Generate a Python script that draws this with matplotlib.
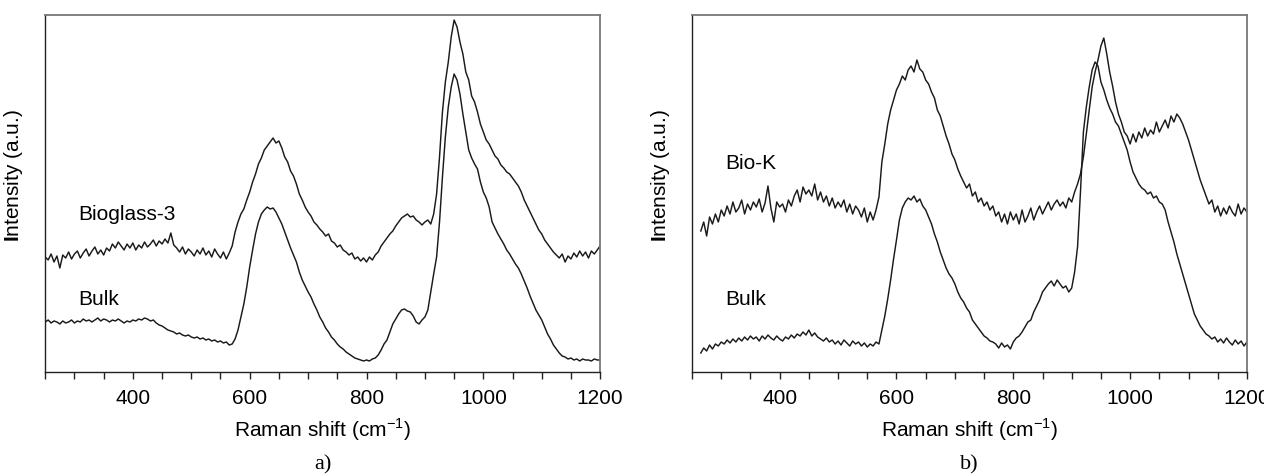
import numpy as np
import matplotlib
matplotlib.use("Agg")
from matplotlib import pyplot as plt
from matplotlib.ticker import MultipleLocator

plt.rcParams['font.family'] = ['Liberation Sans', 'DejaVu Sans']
plt.rcParams['mathtext.fontset'] = 'custom'
plt.rcParams['mathtext.rm'] = 'Liberation Sans'
plt.rcParams['mathtext.bf'] = 'Liberation Sans:bold'

# Raman shift grids (cm-1)
shift_a = np.arange(250, 1201, 5)
shift_b = np.arange(265, 1201, 5)

# panel a) intensities (a.u.)
bioglass3 = [
    115, 112, 118, 110, 116, 104, 117, 114, 120, 113, 118,
    121, 114, 119, 123, 116, 121, 125, 118, 122, 117, 124, 121, 128, 124, 130, 126, 122, 128, 124, 129,
    122, 127, 124, 130, 125, 128, 132, 126, 131, 128, 133, 129, 139, 127, 124, 120, 125, 118, 123, 120,
    116, 122, 118, 124, 117, 121, 115, 123, 118, 114, 120, 113, 119, 126, 140, 150, 158, 163, 172, 180,
    190, 198, 208, 214, 222, 226, 230, 234, 229, 231, 224, 215, 210, 201, 196, 188, 178, 172, 165, 160,
    156, 150, 147, 143, 140, 136, 138, 131, 129, 125, 127, 122, 120, 117, 119, 113, 115, 111, 114, 110,
    115, 112, 117, 120, 126, 130, 134, 138, 141, 146, 150, 154, 156, 158, 155, 156, 152, 150, 147, 150,
    152, 148, 158, 178, 215, 260, 290, 310, 335, 352, 345, 330, 318, 300, 292, 276, 270, 260, 248, 240,
    232, 228, 222, 216, 213, 207, 204, 200, 198, 194, 190, 186, 180, 172, 166, 160, 154, 148, 142, 138,
    132, 128, 124, 120, 117, 114, 118, 110, 116, 113, 119, 115, 121, 116, 120, 114, 121, 118, 122, 126,
]
bulk_a = [
    50, 52, 49, 51, 50, 48, 51, 49, 50, 52, 49,
    51, 50, 53, 51, 52, 50, 52, 54, 51, 53, 52, 50, 52, 51, 53, 51, 49, 51, 50, 52,
    51, 53, 52, 54, 53, 51, 52, 49, 47, 46, 44, 42, 41, 40, 38, 39, 37, 36, 37, 35,
    34, 35, 33, 34, 32, 33, 31, 32, 30, 31, 29, 30, 27, 28, 33, 42, 55, 68, 85, 105,
    122, 138, 150, 158, 162, 165, 163, 164, 160, 154, 148, 140, 132, 124, 117, 110, 100, 92, 86, 80,
    75, 68, 62, 55, 50, 44, 40, 35, 32, 28, 25, 23, 20, 18, 16, 14, 13, 12, 11, 12,
    11, 13, 14, 17, 22, 28, 32, 40, 48, 53, 58, 62, 63, 61, 60, 56, 50, 48, 52, 55,
    62, 80, 98, 115, 150, 195, 235, 265, 285, 298, 292, 278, 258, 240, 222, 214, 208, 203, 190, 180,
    174, 165, 150, 144, 138, 133, 128, 122, 118, 113, 108, 104, 98, 91, 84, 76, 69, 62, 57, 52,
    45, 38, 33, 27, 23, 19, 16, 15, 13, 14, 12, 13, 11, 13, 12, 12, 11, 13, 12, 12,
]

# panel b) intensities (a.u.)
biok = [
    141, 150, 136, 155, 148, 158, 150, 162,
    156, 166, 158, 170, 160, 164, 172, 158, 168, 162, 170, 165, 173, 160, 169, 186, 164, 150, 170, 165,
    168, 160, 172, 166, 176, 182, 170, 185, 178, 182, 176, 188, 172, 180, 170, 176, 166, 174, 164, 170,
    165, 172, 160, 168, 158, 166, 162, 155, 164, 150, 160, 152, 162, 175, 210, 228, 248, 262, 272, 282,
    288, 296, 292, 302, 306, 300, 312, 303, 300, 292, 288, 280, 274, 262, 256, 246, 236, 228, 218, 212,
    203, 196, 190, 184, 188, 176, 180, 170, 174, 166, 170, 162, 166, 156, 160, 150, 158, 148, 160, 152,
    158, 148, 162, 150, 156, 164, 152, 160, 166, 158, 164, 170, 162, 168, 172, 166, 170, 164, 174, 170,
    180, 188, 198, 215, 238, 262, 285, 300, 312, 326, 334, 318, 300, 286, 270, 258, 250, 240, 236, 228,
    238, 230, 240, 234, 244, 236, 242, 238, 250, 240, 246, 252, 244, 256, 250, 258, 254, 248, 240, 232,
    222, 212, 202, 192, 184, 176, 168, 172, 160, 166, 156, 164, 158, 166, 160, 156, 168, 158, 164, 160,
]
bulk_b = [
    19, 24, 21, 27, 23, 28, 26, 30,
    28, 32, 29, 33, 30, 34, 31, 35, 32, 36, 33, 35, 31, 36, 33, 37, 34, 32, 36, 33,
    31, 35, 33, 37, 34, 38, 36, 40, 37, 42, 36, 39, 35, 33, 31, 34, 30, 32, 28, 31,
    27, 32, 29, 26, 31, 28, 30, 26, 29, 25, 28, 26, 30, 28, 42, 56, 73, 92, 113, 132,
    152, 164, 170, 174, 172, 176, 170, 173, 166, 162, 155, 148, 138, 130, 120, 112, 104, 98, 94, 88,
    80, 74, 70, 64, 60, 52, 48, 44, 40, 36, 34, 31, 30, 28, 24, 29, 25, 27, 23, 30,
    34, 36, 40, 45, 50, 52, 60, 66, 72, 80, 84, 88, 91, 86, 92, 88, 84, 86, 80, 84,
    100, 125, 180, 240, 265, 285, 302, 310, 306, 290, 282, 272, 264, 258, 250, 246, 238, 230, 222, 210,
    200, 194, 188, 184, 182, 178, 180, 174, 176, 170, 168, 162, 150, 140, 130, 118, 108, 98, 88, 78,
    68, 58, 52, 46, 42, 38, 36, 33, 35, 30, 33, 29, 34, 30, 27, 32, 28, 31, 26, 30,
]

panels = [
    (shift_a, bioglass3, bulk_a, 'Bioglass-3', 157, 'a)'),
    (shift_b, biok, bulk_b, 'Bio-K', 209, 'b)'),
]

fig = plt.figure(figsize=(12.64, 4.74), dpi=100)
lefts = [0.0358, 0.5475]

for left, (x, top_curve, low_curve, name, name_y, tag) in zip(lefts, panels):
    ax = fig.add_axes([left, 0.2152, 0.4390, 0.7542])
    ax.plot(x, top_curve, color='#1a1a1a', lw=1.05)
    ax.plot(x, low_curve, color='#1a1a1a', lw=1.05)
    ax.set_xlim(250, 1200)
    ax.set_ylim(0, 357.5)
    ax.set_yticks([])
    ax.xaxis.set_major_locator(MultipleLocator(200))
    ax.xaxis.set_minor_locator(MultipleLocator(50))
    ax.tick_params(axis='x', which='both', direction='out', length=5, width=1,
                   labelsize=15, pad=7, color='#222222')
    for side in ['top', 'right']:
        ax.spines[side].set_color('#777777')
        ax.spines[side].set_linewidth(1.3)
    for side in ['left', 'bottom']:
        ax.spines[side].set_color('#222222')
        ax.spines[side].set_linewidth(1.0)
    ax.set_xlabel(r'Raman shift (cm$^{-1}$)', fontsize=15, labelpad=6)
    ax.set_ylabel(r'$\mathbf{I}$ntensity (a.u.)', fontsize=15)
    ax.yaxis.set_label_coords(-0.036, 0.55)
    ax.text(307, name_y, name, fontsize=15, va='center')
    ax.text(307, 72, 'Bulk', fontsize=15, va='center')
    ax.text(0.5, -0.26, tag, transform=ax.transAxes, ha='center', va='center',
            fontsize=16, family='Liberation Serif')

fig.savefig('out.png', dpi=100)
